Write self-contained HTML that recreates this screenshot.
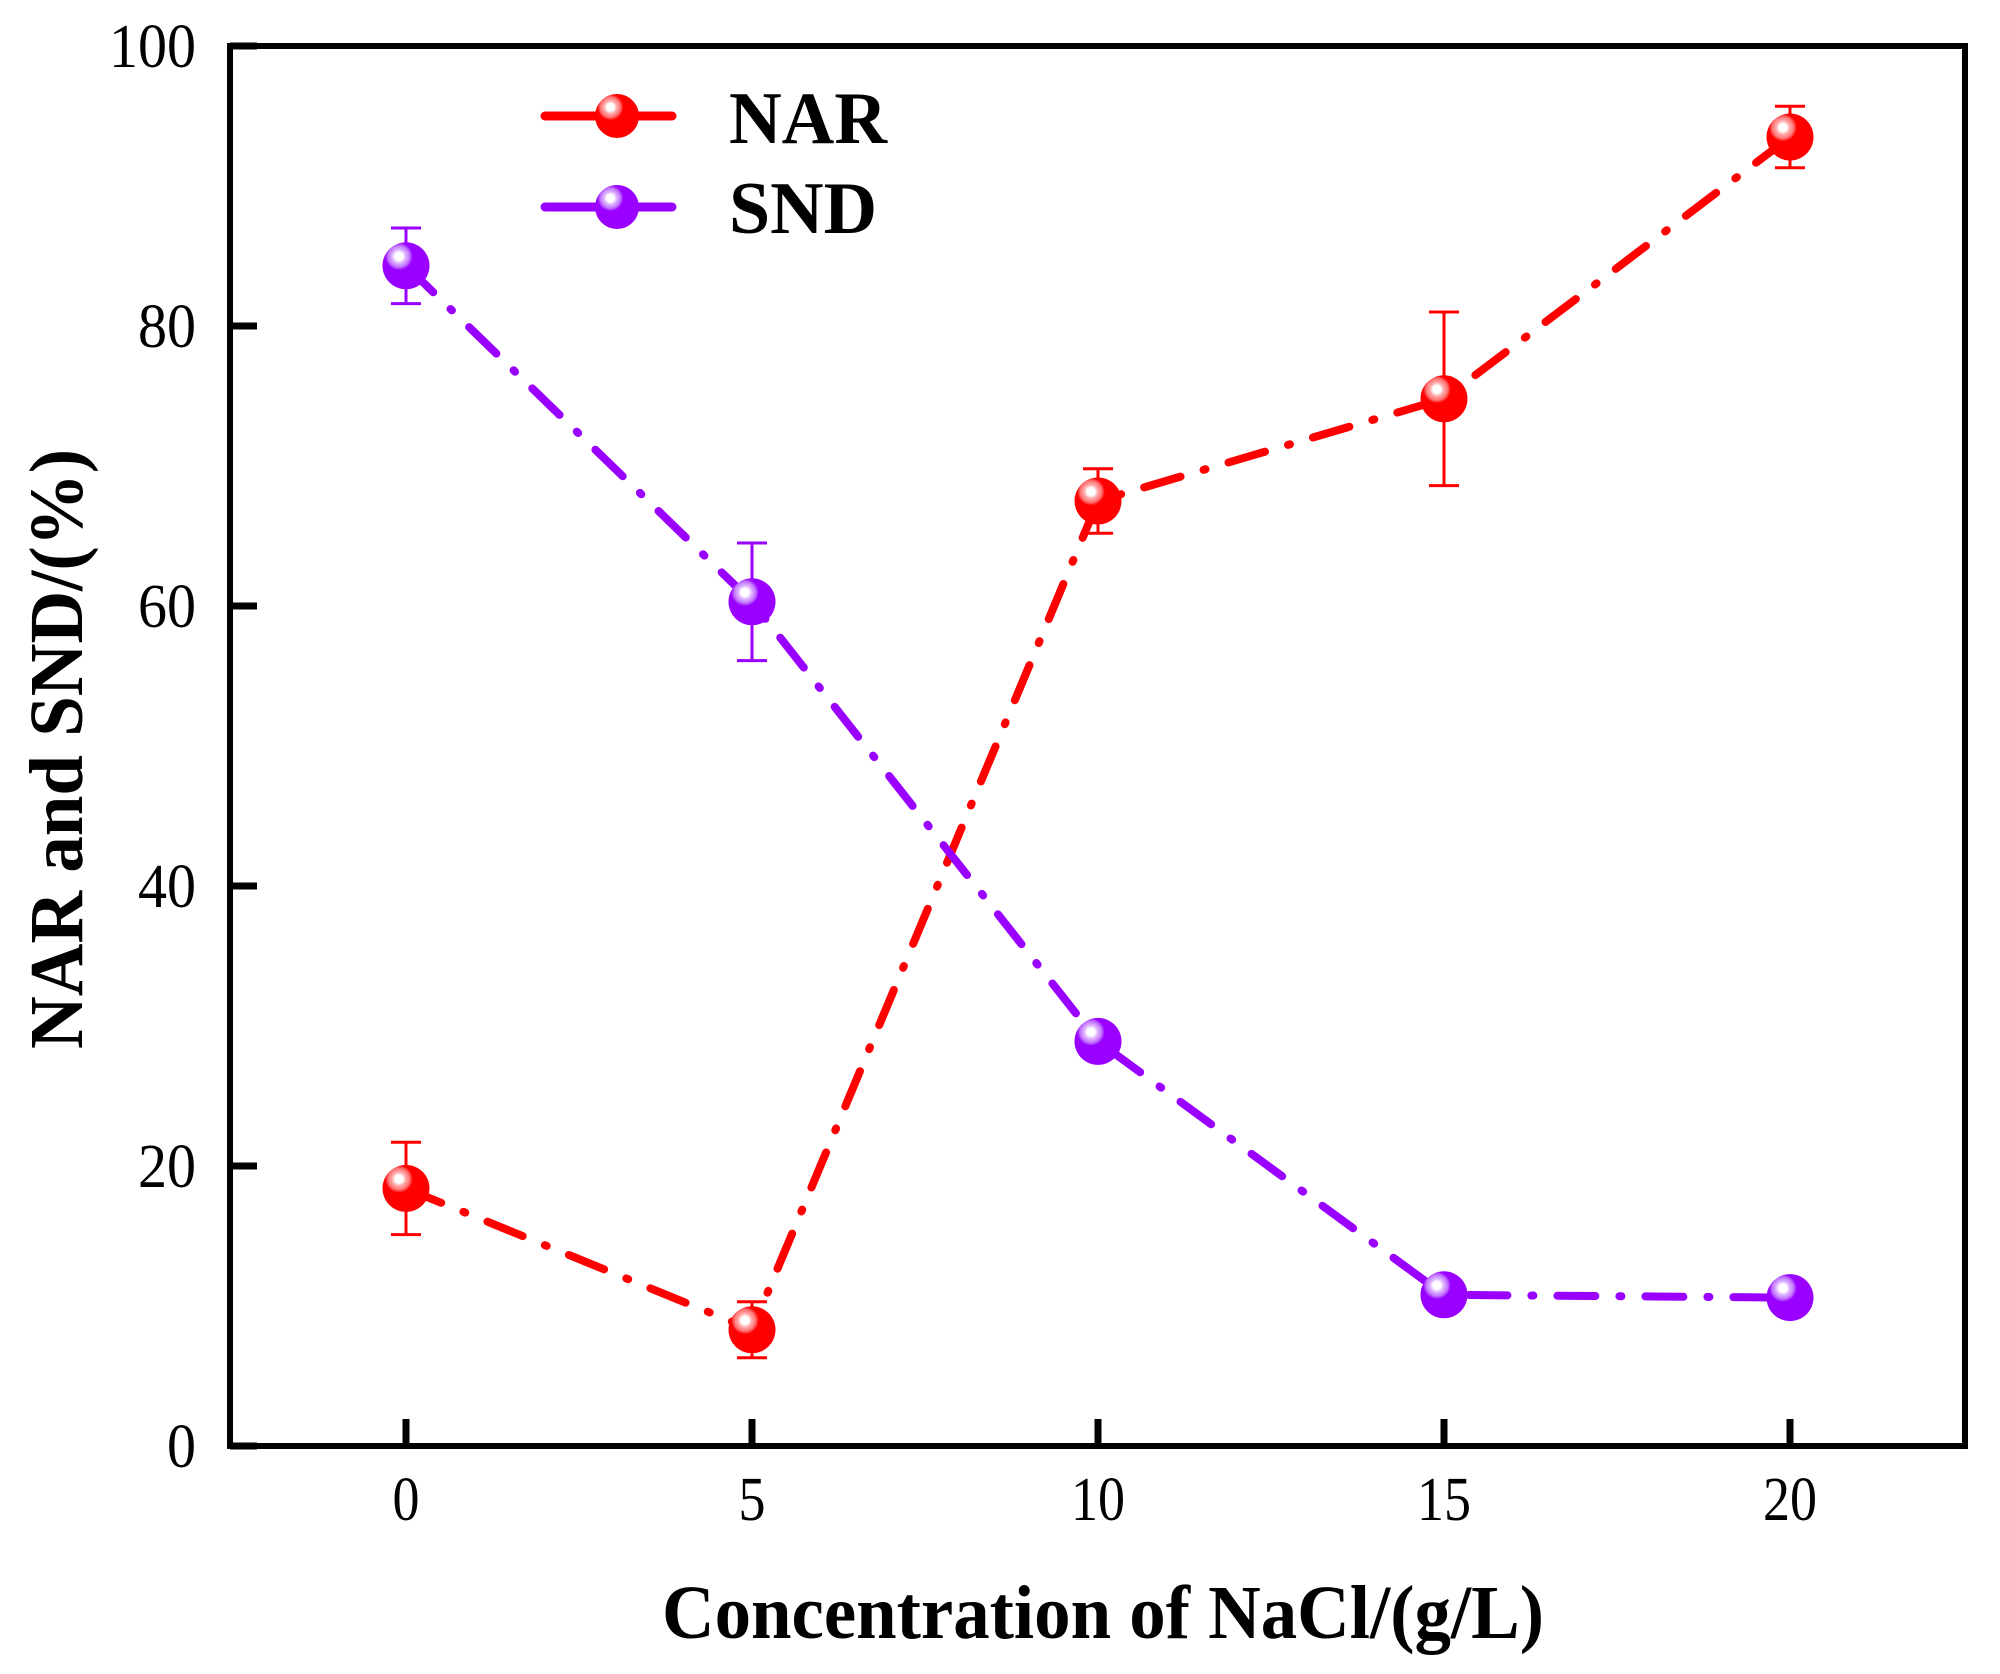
<!DOCTYPE html>
<html><head><meta charset="utf-8"><style>
html,body{margin:0;padding:0;background:#fff}
svg{display:block}
text{font-family:"Liberation Serif","Times New Roman",serif}
</style></head><body>
<svg id="chart" width="2000" height="1674" viewBox="0 0 2000 1674" xmlns="http://www.w3.org/2000/svg">
<defs>
<radialGradient id="gR" cx="0.35" cy="0.3" r="0.7"><stop offset="0" stop-color="#fff"/><stop offset="0.12" stop-color="#fff"/><stop offset="0.2" stop-color="#ffb0b0"/><stop offset="0.33" stop-color="#ff7070"/><stop offset="0.42" stop-color="#ff0000"/><stop offset="1" stop-color="#ff0000"/></radialGradient>
<radialGradient id="gP" cx="0.35" cy="0.3" r="0.7"><stop offset="0" stop-color="#fff"/><stop offset="0.12" stop-color="#fff"/><stop offset="0.2" stop-color="#e0b8ff"/><stop offset="0.33" stop-color="#c070ff"/><stop offset="0.42" stop-color="#9900ff"/><stop offset="1" stop-color="#9900ff"/></radialGradient>
</defs>
<g id="plot"></g>
<text x="1103" y="1638" font-size="76" font-weight="bold" text-anchor="middle" textLength="882" lengthAdjust="spacingAndGlyphs">Concentration of NaCl/(g/L)</text>
<text transform="translate(82,749) rotate(-90)" font-size="76" font-weight="bold" text-anchor="middle" textLength="600" lengthAdjust="spacingAndGlyphs">NAR and SND/(%)</text>
<g>
<g>
<line x1="545" y1="116" x2="672" y2="116" stroke="#ff0000" stroke-width="9" stroke-linecap="round"/>
<circle cx="617" cy="116" r="22" fill="url(#gR)"/>
<text x="729" y="143" font-size="74" font-weight="bold" textLength="158" lengthAdjust="spacingAndGlyphs">NAR</text>
</g>
<g>
<line x1="545" y1="207" x2="672" y2="207" stroke="#9900ff" stroke-width="9" stroke-linecap="round"/>
<circle cx="617" cy="207" r="22" fill="url(#gP)"/>
<text x="729" y="233" font-size="74" font-weight="bold">SND</text>
</g>
</g>
</svg>
<script>
const categories=[0,5,10,15,20];
const narValues=[18.4,8.3,67.5,74.8,93.5];
const narErrors=[3.3,2.0,2.3,6.2,2.2];
const sndValues=[84.3,60.3,28.9,10.8,10.6];
const sndErrors=[2.7,4.2,0.8,0.5,1.0];
const yTicks=[0,20,40,60,80,100];
const xTicks=[0,5,10,15,20];

const L=230,R=1965,T=46,B=1446;
const xs=v=>406+(v-0)*69.2;
const ys=v=>B-(v/100)*(B-T);
const NS='http://www.w3.org/2000/svg';
const g=document.getElementById('plot');
function mk(tag,attrs,parent){const e=document.createElementNS(NS,tag);for(const k in attrs)e.setAttribute(k,attrs[k]);(parent||g).appendChild(e);return e;}

const frame=mk('rect',{x:L,y:T,width:R-L,height:B-T,fill:'none',stroke:'#000','stroke-width':6});



yTicks.forEach(v=>{
  const y=ys(v);
  const t=mk('line',{x1:L,y1:y,x2:L+27,y2:y,stroke:'#000','stroke-width':7});
  
  
  const s=String(v);
  const lb=mk('text',{x:196,y:y+21,'font-size':62,'text-anchor':'end',textLength:s.length*29,lengthAdjust:'spacingAndGlyphs'});
  lb.textContent=s;
  
  
});
xTicks.forEach(v=>{
  const x=xs(v);
  const t=mk('line',{x1:x,y1:B,x2:x,y2:B-27,stroke:'#000','stroke-width':7});
  
  
  const s=String(v);
  const lb=mk('text',{x:x,y:1520,'font-size':62,'text-anchor':'middle',textLength:s.length*27,lengthAdjust:'spacingAndGlyphs'});
  lb.textContent=s;
  
  
});

function series(vals,errs,color,grad,name){
  const sg=mk('g',{});
  
  
  const pts=vals.map((v,i)=>xs(categories[i])+','+ys(v)).join(' ');
  const pl=mk('polyline',{points:pts,fill:'none',stroke:color,'stroke-width':8,'stroke-linecap':'round','stroke-dasharray':'38 24 2 24'},sg);
  
  
  vals.forEach((v,i)=>{
    const x=xs(categories[i]);
    const e=errs[i];
    const eb=mk('path',{d:`M${x},${ys(v+e)}V${ys(v-e)}M${x-15},${ys(v+e)}H${x+15}M${x-15},${ys(v-e)}H${x+15}`,stroke:color,'stroke-width':3,fill:'none'},sg);
    
    
    const c=mk('circle',{cx:x,cy:ys(v),r:23.5,fill:'url(#'+grad+')'},sg);
    
    
  });
}
series(narValues,narErrors,'#ff0000','gR','nar');
series(sndValues,sndErrors,'#9900ff','gP','snd');
</script>
</body></html>
